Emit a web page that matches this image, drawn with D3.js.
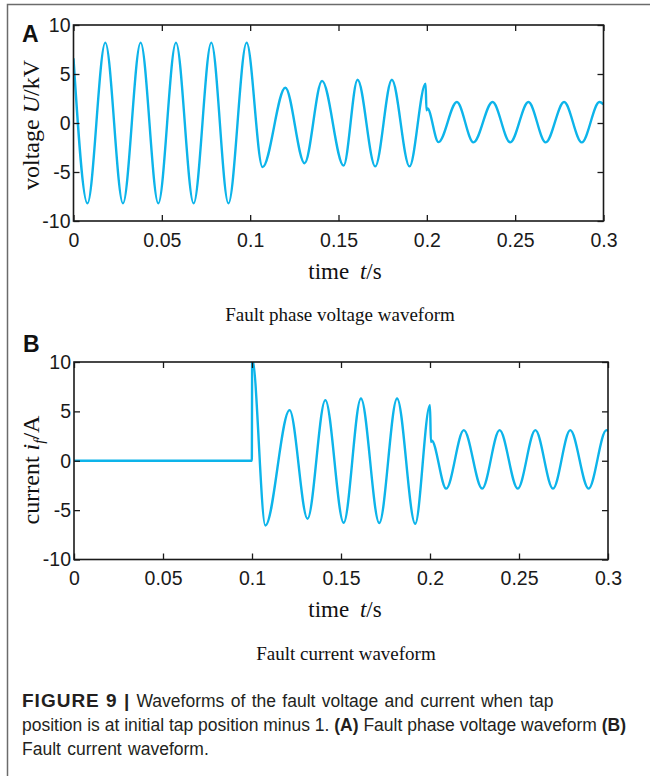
<!DOCTYPE html>
<html>
<head>
<meta charset="utf-8">
<script src="https://cdn.jsdelivr.net/npm/d3@7"></script>
<style>
  body { margin: 0; background: #fff; }
</style>
</head>
<body>
<div id="figure"></div>
<script>
// values (extremes of each swing, plus the spikes)
const voltTime = [0, 0.0079, 0.018, 0.028, 0.038, 0.048, 0.058, 0.068, 0.078, 0.0877, 0.098,
    0.107, 0.1199, 0.1308, 0.1407, 0.1529, 0.1608, 0.1708, 0.1802, 0.1902, 0.1993, 0.1998, 0.2003,
    0.2066, 0.217, 0.2264, 0.2372, 0.2472, 0.2575, 0.2673, 0.2777, 0.2877, 0.2977, 0.3];
const voltValue = [6.6, -8.2, 8.2, -8.2, 8.2, -8.2, 8.2, -8.2, 8.2, -8.2, 8.2,
    -4.5, 3.6, -4.1, 4.3, -4.35, 4.42, -4.43, 4.42, -4.43, 4.0, 1.3, 1.5,
    -1.95, 2.14, -1.98, 2.14, -1.98, 2.14, -1.98, 2.14, -1.98, 2.14, 1.9];

const currTime = [0, 0.0999, 0.1001, 0.1075, 0.1211, 0.1312, 0.1412, 0.1515, 0.1612, 0.1715,
    0.1815, 0.1917, 0.2, 0.2005, 0.2009, 0.2091, 0.219, 0.2293, 0.2391, 0.2493, 0.2592,
    0.2691, 0.2788, 0.2891, 0.2991, 0.3];
const currValue = [0, 0, 10.4, -6.55, 5.13, -5.87, 6.14, -6.28, 6.31, -6.31,
    6.31, -6.38, 5.63, 1.9, 2.05, -2.82, 3.1, -2.82, 3.1, -2.82, 3.1,
    -2.82, 3.1, -2.82, 3.1, 3.0];

const xTicks = [0, 0.05, 0.1, 0.15, 0.2, 0.25, 0.3];
const yTicks = [-10, -5, 0, 5, 10];

document.addEventListener("DOMContentLoaded", function () {
    const width = 650, height = 776;
    const lineColor = "#0db4ea";
    const axisColor = "#1a1a1a";

    const svg = d3.select("#figure")
        .append("svg")
        .attr("width", width)
        .attr("height", height);

    // page frame (left + top rule)
    svg.append("path")
        .attr("d", "M7.5,776V4.5H650")
        .attr("fill", "none")
        .attr("stroke", "#6b6b6b")
        .attr("stroke-width", 1.5);

    function drawPanel(id, box, times, values) {
        const x = d3.scaleLinear().domain([0, 0.3]).range([box.left, box.right]);
        const y = d3.scaleLinear().domain([-10, 10]).range([box.bottom, box.top]);
        const g = svg.append("g");

        g.append("clipPath").attr("id", "clip-" + id)
            .append("rect")
            .attr("x", box.left).attr("y", box.top)
            .attr("width", box.right - box.left)
            .attr("height", box.bottom - box.top);

        const points = d3.zip(times, values);
        const line = d3.line()
            .x(d => x(d[0]))
            .y(d => y(d[1]))
            .curve(d3.curveMonotoneX);

        g.append("path")
            .datum(points)
            .attr("clip-path", "url(#clip-" + id + ")")
            .attr("fill", "none")
            .attr("stroke", lineColor)
            .attr("stroke-width", 2.4)
            .attr("d", line);

        const fmt = d => d === 0 ? "0" : String(+d.toFixed(2));

        const bottom = g.append("g")
            .attr("transform", `translate(0,${box.bottom})`)
            .call(d3.axisBottom(x).tickValues(xTicks).tickSize(-6).tickPadding(12).tickFormat(fmt));
        const top = g.append("g")
            .attr("transform", `translate(0,${box.top})`)
            .call(d3.axisTop(x).tickValues(xTicks).tickSize(-6).tickFormat(""));
        const left = g.append("g")
            .attr("transform", `translate(${box.left},0)`)
            .call(d3.axisLeft(y).tickValues(yTicks).tickSize(-6).tickPadding(3).tickFormat(d => String(d)));
        const right = g.append("g")
            .attr("transform", `translate(${box.right},0)`)
            .call(d3.axisRight(y).tickValues(yTicks).tickSize(-6).tickFormat(""));

        [bottom, top, left, right].forEach(a => {
            a.select(".domain").remove();
            a.selectAll("line").attr("stroke", axisColor).attr("stroke-width", 1.3);
            a.selectAll("text")
                .attr("fill", axisColor)
                .attr("font-family", "'Liberation Sans', Arial, sans-serif")
                .attr("font-size", 19.5);
        });

        g.append("rect")
            .attr("x", box.left).attr("y", box.top)
            .attr("width", box.right - box.left)
            .attr("height", box.bottom - box.top)
            .attr("fill", "none")
            .attr("stroke", axisColor)
            .attr("stroke-width", 1.6);

        return g;
    }

    const serif = "'Liberation Serif', 'Times New Roman', serif";

    // ---- panel A ----
    const gA = drawPanel("a", { left: 73.5, right: 603.5, top: 25, bottom: 221 }, voltTime, voltValue);

    const yLabA = gA.append("text")
        .attr("transform", "translate(39,125) rotate(-90)")
        .attr("text-anchor", "middle")
        .attr("font-family", serif)
        .attr("font-size", 24)
        .attr("fill", "#111");
    yLabA.append("tspan").text("voltage ");
    yLabA.append("tspan").attr("font-style", "italic").text("U");
    yLabA.append("tspan").text("/kV");

    const xLabA = gA.append("text")
        .attr("x", 345).attr("y", 279)
        .attr("text-anchor", "middle")
        .attr("font-family", serif)
        .attr("font-size", 23)
        .attr("fill", "#111");
    xLabA.append("tspan").text("time ");
    xLabA.append("tspan").attr("dx", 5).attr("font-style", "italic").text("t");
    xLabA.append("tspan").text("/s");

    gA.append("text")
        .attr("x", 340).attr("y", 321)
        .attr("text-anchor", "middle")
        .attr("font-family", serif)
        .attr("font-size", 19)
        .attr("fill", "#111")
        .text("Fault phase voltage waveform");

    gA.append("text")
        .attr("x", 22).attr("y", 41.5)
        .attr("font-family", "'Liberation Sans', Arial, sans-serif")
        .attr("font-weight", "bold")
        .attr("font-size", 23)
        .attr("fill", "#111")
        .text("A");

    // ---- panel B ----
    const gB = drawPanel("b", { left: 74, right: 608, top: 362, bottom: 559.5 }, currTime, currValue);

    const yLabB = gB.append("text")
        .attr("transform", "translate(39,470) rotate(-90)")
        .attr("text-anchor", "middle")
        .attr("font-family", serif)
        .attr("font-size", 24)
        .attr("fill", "#111");
    yLabB.append("tspan").text("current ");
    yLabB.append("tspan").attr("font-style", "italic").text("i");
    yLabB.append("tspan").attr("font-style", "italic").attr("font-size", 15).attr("dy", 5).text("f");
    yLabB.append("tspan").attr("dy", -5).text("/A");

    const xLabB = gB.append("text")
        .attr("x", 345).attr("y", 617)
        .attr("text-anchor", "middle")
        .attr("font-family", serif)
        .attr("font-size", 23)
        .attr("fill", "#111");
    xLabB.append("tspan").text("time ");
    xLabB.append("tspan").attr("dx", 5).attr("font-style", "italic").text("t");
    xLabB.append("tspan").text("/s");

    gB.append("text")
        .attr("x", 346).attr("y", 660)
        .attr("text-anchor", "middle")
        .attr("font-family", serif)
        .attr("font-size", 19)
        .attr("fill", "#111")
        .text("Fault current waveform");

    gB.append("text")
        .attr("x", 23).attr("y", 351.5)
        .attr("font-family", "'Liberation Sans', Arial, sans-serif")
        .attr("font-weight", "bold")
        .attr("font-size", 23)
        .attr("fill", "#111")
        .text("B");

    // ---- caption ----
    const caption = svg.append("g")
        .attr("font-family", "'Liberation Sans', Arial, sans-serif")
        .attr("font-size", 17.5)
        .attr("fill", "#231f20");

    const c1 = caption.append("text").attr("x", 22).attr("y", 707);
    c1.append("tspan").attr("font-weight", "bold").attr("font-size", 19).attr("letter-spacing", 1).text("FIGURE 9 | ");
    c1.append("tspan").attr("word-spacing", 1.5).text("Waveforms of the fault voltage and current when tap");

    const c2 = caption.append("text").attr("x", 22).attr("y", 731);
    c2.append("tspan").text("position is at initial tap position minus 1. ");
    c2.append("tspan").attr("font-weight", "bold").text("(A)");
    c2.append("tspan").text(" Fault phase voltage waveform ");
    c2.append("tspan").attr("font-weight", "bold").text("(B)");

    caption.append("text").attr("x", 22).attr("y", 755).attr("word-spacing", 1.5).text("Fault current waveform.");
});
</script>
</body>
</html>
